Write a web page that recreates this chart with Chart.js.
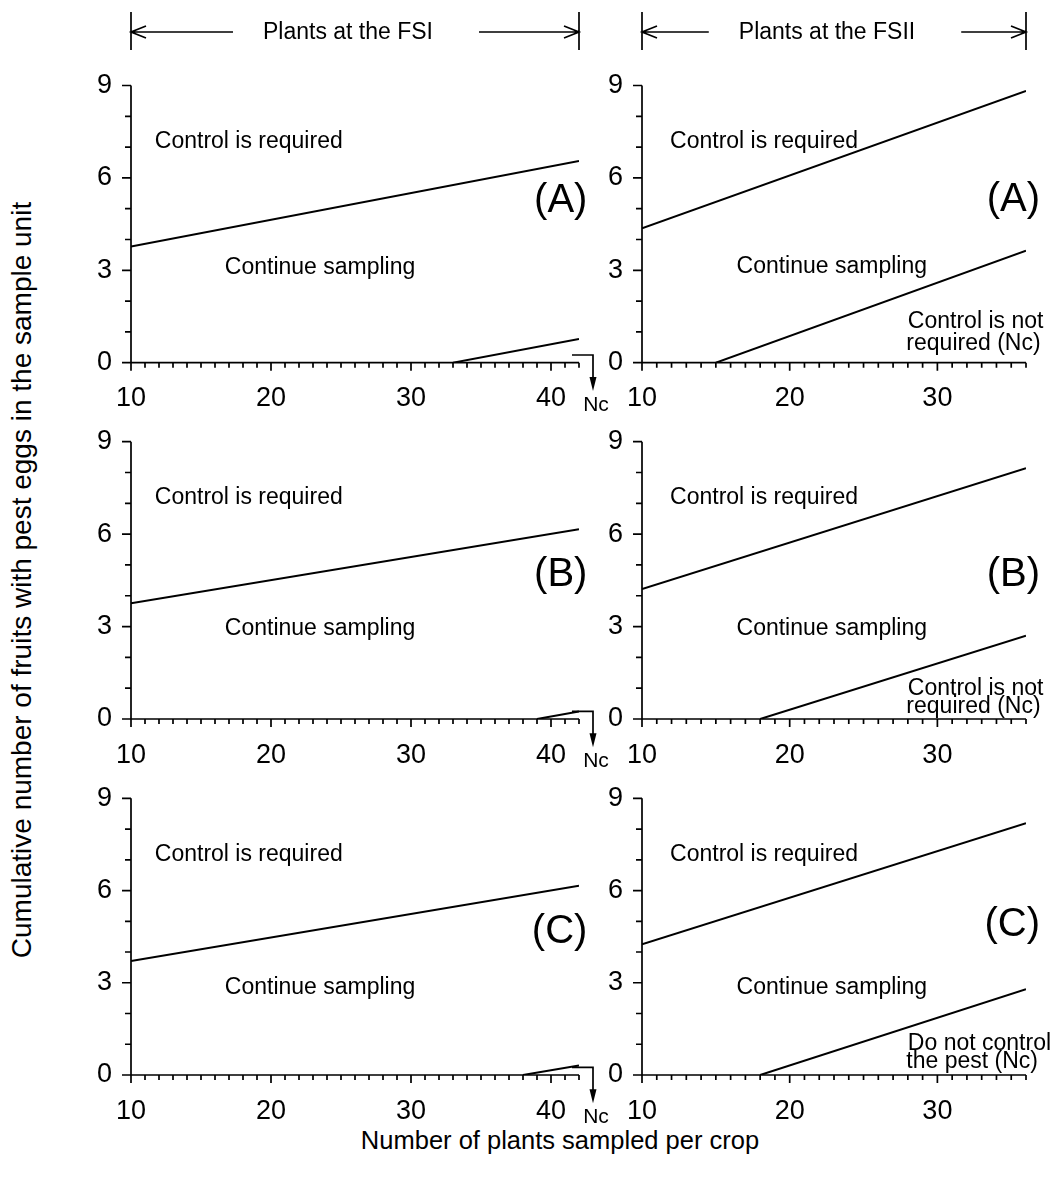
<!DOCTYPE html>
<html>
<head>
<meta charset="utf-8">
<script src="https://cdn.jsdelivr.net/npm/chart.js@4.4.0/dist/chart.umd.min.js"></script>
<style>
html,body{margin:0;padding:0;background:#fff;}
#wrap{position:relative;width:1056px;height:1180px;overflow:hidden;background:#fff;font-family:"Liberation Sans",Arial,sans-serif;}
#wrap canvas{position:absolute;}
.t{position:absolute;color:#000;white-space:nowrap;font-family:"Liberation Sans",Arial,sans-serif;}
</style>
</head>
<body>
<div id="wrap">
  <div class="t" id="ytitle" style="left:22px;top:580px;font-size:28px;transform:translate(-50%,-50%) rotate(-90deg);">Cumulative number of fruits with pest eggs in the sample unit</div>
  <div class="t" id="xtitle" style="left:560px;top:1140px;font-size:25.5px;transform:translate(-50%,-50%);">Number of plants sampled per crop</div>
</div>
<script>
// ---------------- data ----------------
const panelNames = ['(A)', '(B)', '(C)'];
const headers = ['Plants at the FSI', 'Plants at the FSII'];
const xRangeFSI = [10, 42];
const xRangeFSII = [10, 36];
const yRange = [0, 9];
const xTicksFSI = [10, 20, 30, 40];
const xTicksFSII = [10, 20, 30];
const yTicks = [0, 3, 6, 9];

// FSI (left column) – upper decision line (control is required)
const fsiUpperX = [10, 42];
const fsiUpperA = [3.77, 6.55];
const fsiUpperB = [3.76, 6.16];
const fsiUpperC = [3.71, 6.16];
// FSI – lower decision line
const fsiLowerAX = [33, 42];
const fsiLowerA = [0, 0.77];
const fsiLowerBX = [39, 42];
const fsiLowerB = [0, 0.24];
const fsiLowerCX = [38, 42];
const fsiLowerC = [0, 0.31];

// FSII (right column) – upper decision line
const fsiiUpperX = [10, 36];
const fsiiUpperA = [4.36, 8.82];
const fsiiUpperB = [4.22, 8.14];
const fsiiUpperC = [4.25, 8.19];
// FSII – lower decision line
const fsiiLowerAX = [15, 36];
const fsiiLowerA = [0, 3.64];
const fsiiLowerBX = [18, 36];
const fsiiLowerB = [0, 2.70];
const fsiiLowerCX = [18, 36];
const fsiiLowerC = [0, 2.79];

const regionTexts = ['Control is required', 'Continue sampling'];
const lowerTextsFSII = [
  ['Control is not', 'required (Nc)'],
  ['Control is not', 'required (Nc)'],
  ['Do not control', 'the pest (Nc)']
];
const ncLabel = 'Nc';

// ---------------- layout ----------------
const FONT = '"Liberation Sans", Arial, sans-serif';
Chart.defaults.font.family = FONT;
Chart.defaults.color = '#000';

const colL = [131, 642], colR = [579, 1026];
const rowT = [85.5, 441.7, 798.3], rowB = [362.7, 719, 1075];
const cvCol = [{left: 0, width: 625}, {left: 596, width: 460}];
const cvRow = [{top: 0, height: 430}, {top: 395, height: 390}, {top: 752, height: 400}];

const panels = [
  {r:0,c:0, upX:fsiUpperX, up:fsiUpperA, loX:fsiLowerAX, lo:fsiLowerA, contY:3.1, nameY:5.25},
  {r:1,c:0, upX:fsiUpperX, up:fsiUpperB, loX:fsiLowerBX, lo:fsiLowerB, contY:2.92, nameY:4.68},
  {r:2,c:0, upX:fsiUpperX, up:fsiUpperC, loX:fsiLowerCX, lo:fsiLowerC, contY:2.85, nameY:4.66},
  {r:0,c:1, upX:fsiiUpperX, up:fsiiUpperA, loX:fsiiLowerAX, lo:fsiiLowerA, contY:3.12, nameY:5.28, lowY:[1.33,0.61]},
  {r:1,c:1, upX:fsiiUpperX, up:fsiiUpperB, loX:fsiiLowerBX, lo:fsiiLowerB, contY:2.92, nameY:4.68, lowY:[1.0,0.4]},
  {r:2,c:1, upX:fsiiUpperX, up:fsiiUpperC, loX:fsiiLowerCX, lo:fsiiLowerC, contY:2.85, nameY:4.88, lowY:[1.03,0.43]}
];

function makePlugin(p) {
  return {
    id: 'panelDeco',
    afterDraw(chart) {
      const ctx = chart.ctx;
      const xs = chart.scales.x, ys = chart.scales.y;
      const xmin = xs.min, xmax = xs.max;
      const X = v => xs.getPixelForValue(v), Y = v => ys.getPixelForValue(v);
      const x0 = X(xmin), y0 = Y(0);
      ctx.save();
      ctx.strokeStyle = '#000'; ctx.fillStyle = '#000';
      ctx.lineWidth = 1.7; ctx.lineCap = 'butt';
      // axes
      ctx.beginPath();
      ctx.moveTo(x0, Y(yRange[1])); ctx.lineTo(x0, y0);
      ctx.moveTo(x0, y0); ctx.lineTo(X(xmax), y0);
      // y ticks
      for (let v = yRange[0]; v <= yRange[1]; v++) {
        const len = (v % 3 === 0) ? 9 : 6;
        ctx.moveTo(x0 - len, Y(v)); ctx.lineTo(x0, Y(v));
      }
      // x ticks
      for (let v = xmin; v <= xmax; v++) {
        const len = (v % 10 === 0) ? 8 : 5;
        ctx.moveTo(X(v), y0); ctx.lineTo(X(v), y0 + len);
      }
      ctx.stroke();

      const txt = (s, xv, yv, align, size) => {
        ctx.font = size + 'px ' + FONT;
        ctx.textAlign = align; ctx.textBaseline = 'middle';
        ctx.fillText(s, X(xv), Y(yv));
      };
      const isL = p.c === 0;
      txt(regionTexts[0], isL ? 11.7 : 11.9, 7.18, 'left', 23);
      txt(regionTexts[1], isL ? 16.7 : 16.4, p.contY, 'left', 23);
      txt(panelNames[p.r], isL ? 42.6 : 36.95, p.nameY, 'right', 40);
      if (!isL) {
        txt(lowerTextsFSII[p.r][0], 28.0, p.lowY[0], 'left', 23);
        txt(lowerTextsFSII[p.r][1], 27.9, p.lowY[1], 'left', 23);
      } else {
        // Nc bracket arrow
        const ax = X(43.0), ay = Y(0.25), tipY = Y(-0.92);
        ctx.lineWidth = 1.7;
        ctx.beginPath();
        ctx.moveTo(X(41.5), ay); ctx.lineTo(ax, ay); ctx.lineTo(ax, tipY - 8);
        ctx.stroke();
        ctx.beginPath();
        ctx.moveTo(ax, tipY); ctx.lineTo(ax - 3.5, tipY - 14); ctx.lineTo(ax + 3.5, tipY - 14); ctx.closePath();
        ctx.fill();
        ctx.font = '21px ' + FONT; ctx.textAlign = 'center'; ctx.textBaseline = 'middle';
        ctx.fillText(ncLabel, ax + 3, Y(-1.38));
      }
      // header
      if (p.r === 0) {
        const L = X(xmin), R = X(xmax);
        const top = 12, bot = 50, my = 32;
        ctx.lineWidth = 1.7;
        ctx.font = '23px ' + FONT; ctx.textAlign = 'center'; ctx.textBaseline = 'middle';
        const label = headers[p.c];
        const cx = (L + R) / 2 - 7;
        const w = ctx.measureText(label).width;
        ctx.fillText(label, cx, my + 1);
        ctx.beginPath();
        ctx.moveTo(L, top); ctx.lineTo(L, bot);
        ctx.moveTo(R, top); ctx.lineTo(R, bot);
        ctx.moveTo(L, my); ctx.lineTo(cx - w / 2 - 30, my);
        ctx.moveTo(cx + w / 2 + 46, my); ctx.lineTo(R, my);
        ctx.moveTo(L + 15, my - 6); ctx.lineTo(L, my); ctx.lineTo(L + 15, my + 6);
        ctx.moveTo(R - 15, my - 6); ctx.lineTo(R, my); ctx.lineTo(R - 15, my + 6);
        ctx.stroke();
      }
      ctx.restore();
    }
  };
}

const wrap = document.getElementById('wrap');
panels.forEach(p => {
  const col = cvCol[p.c], row = cvRow[p.r];
  const cv = document.createElement('canvas');
  cv.width = col.width; cv.height = row.height;
  cv.style.left = col.left + 'px'; cv.style.top = row.top + 'px';
  cv.style.width = col.width + 'px'; cv.style.height = row.height + 'px';
  wrap.appendChild(cv);
  const xr = p.c === 0 ? xRangeFSI : xRangeFSII;
  const xt = p.c === 0 ? xTicksFSI : xTicksFSII;
  const yW = 60, xH = 60;
  const wantL = colL[p.c] - col.left, wantR = colR[p.c] - col.left;
  const wantT = rowT[p.r] - row.top, wantB = rowB[p.r] - row.top;
  const lineDs = (xa, ya) => ({
    data: xa.map((x, i) => ({x: x, y: ya[i]})),
    borderColor: '#000', borderWidth: 2, pointRadius: 0, tension: 0, fill: false
  });
  const chart = new Chart(cv, {
    type: 'line',
    data: {datasets: [lineDs(p.upX, p.up), lineDs(p.loX, p.lo)]},
    options: {
      responsive: false, animation: false, devicePixelRatio: 1, events: [],
      layout: {padding: {left: wantL - yW, right: col.width - wantR, top: wantT, bottom: row.height - wantB - xH}},
      plugins: {legend: {display: false}, tooltip: {enabled: false}},
      scales: {
        x: {
          type: 'linear', min: xr[0], max: xr[1],
          grid: {display: false, drawTicks: false}, border: {display: false},
          afterBuildTicks: s => { s.ticks = xt.map(v => ({value: v})); },
          ticks: {padding: 20, font: {size: 27}, color: '#000', maxRotation: 0, autoSkip: false},
          afterFit: s => { s.height = xH; }
        },
        y: {
          type: 'linear', min: yRange[0], max: yRange[1],
          grid: {display: false, drawTicks: false}, border: {display: false},
          afterBuildTicks: s => { s.ticks = yTicks.map(v => ({value: v})); },
          ticks: {padding: 19, font: {size: 27}, color: '#000', autoSkip: false},
          afterFit: s => { s.width = yW; }
        }
      }
    },
    plugins: [makePlugin(p)]
  });
  for (let k = 0; k < 2; k++) {
    const ca = chart.chartArea, pad = chart.options.layout.padding;
    pad.left += wantL - ca.left;
    pad.top += wantT - ca.top;
    pad.right += ca.right - wantR;
    pad.bottom += ca.bottom - wantB;
    chart.update();
  }
});
</script>
</body>
</html>
